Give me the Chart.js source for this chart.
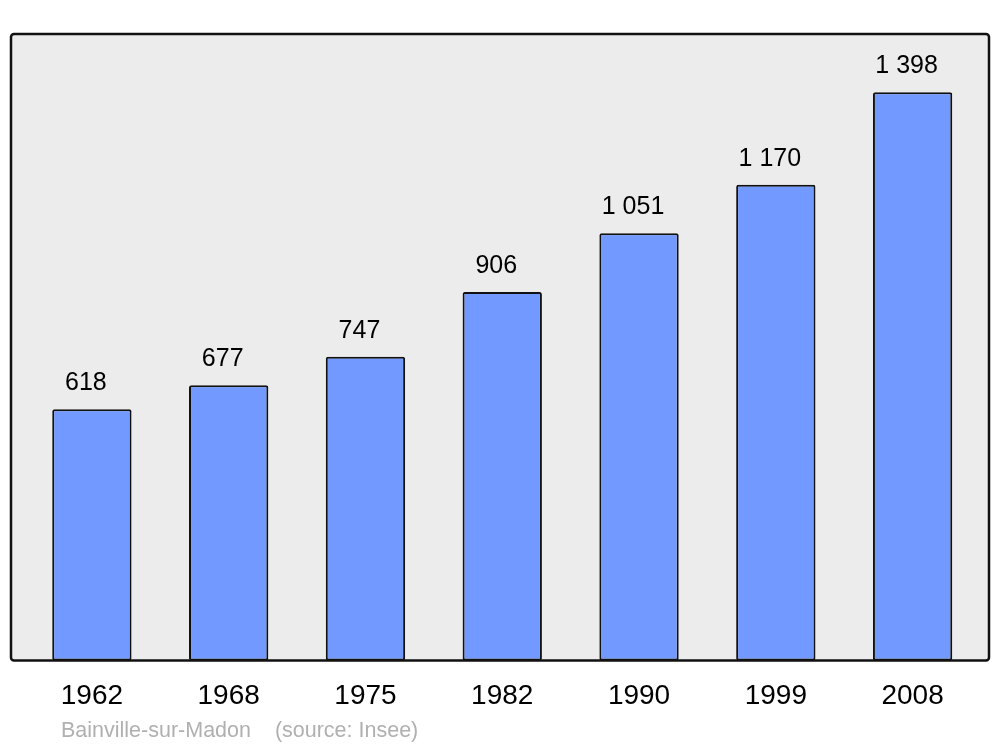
<!DOCTYPE html>
<html>
<head>
<meta charset="utf-8">
<script src="https://cdn.jsdelivr.net/npm/chart.js@4/dist/chart.umd.min.js"></script>
<style>
  html, body { margin: 0; padding: 0; background: #fff; }
  #wrap { width: 1000px; height: 747px; }
</style>
</head>
<body>
<div id="wrap"><canvas id="popChart"></canvas></div>
<script>
const years = ['1962', '1968', '1975', '1982', '1990', '1999', '2008'];
const population = [618, 677, 747, 906, 1051, 1170, 1398];
const sourceText = 'Bainville-sur-Madon    (source: Insee)';

const fmt = v => String(v).replace(/\B(?=(\d{3})+(?!\d))/g, ' ');

// frame behind the bars + value labels above them
const framePlugin = {
    id: 'frame',
    beforeDraw(chart) {
        const { ctx, chartArea } = chart;
        const x = chartArea.left - 12.5, y = chartArea.top;
        const w = chartArea.right + 8 - x, h = chartArea.bottom - y;
        ctx.save();
        ctx.beginPath();
        ctx.roundRect(x, y, w, h, 3);
        ctx.fillStyle = '#ececec';
        ctx.fill();
        ctx.restore();
    },
    afterDatasetsDraw(chart) {
        const { ctx, chartArea } = chart;
        const x = chartArea.left - 12.5, y = chartArea.top;
        const w = chartArea.right + 8 - x, h = chartArea.bottom - y;
        ctx.save();
        ctx.beginPath();
        ctx.roundRect(x, y, w, h, 3);
        ctx.lineWidth = 2.5;
        ctx.strokeStyle = '#111';
        ctx.stroke();

        ctx.font = '25px "Liberation Sans", Arial, sans-serif';
        ctx.fillStyle = '#000';
        ctx.textAlign = 'center';
        ctx.textBaseline = 'middle';
        chart.getDatasetMeta(0).data.forEach((bar, i) => {
            ctx.fillText(fmt(population[i]), bar.x - 6, bar.y - 26);
        });

        ctx.font = '21.5px "Liberation Sans", Arial, sans-serif';
        ctx.fillStyle = '#b0b0b0';
        ctx.textAlign = 'left';
        ctx.fillText(sourceText, 61, 731);
        ctx.restore();
    }
};

const popChart = new Chart(document.getElementById('popChart'), {
    type: 'bar',
    data: {
        labels: years,
        datasets: [{
            data: population,
            backgroundColor: '#7299ff',
            borderColor: '#111',
            borderWidth: 2,
            borderRadius: 2,
            borderSkipped: false,
            categoryPercentage: 1,
            barPercentage: 0.58
        }]
    },
    options: {
        responsive: true,
        maintainAspectRatio: false,
        animation: false,
        layout: {
            padding: { left: 23.5, right: 19, top: 34, bottom: 15 }
        },
        plugins: {
            legend: { display: false },
            tooltip: { enabled: false }
        },
        scales: {
            x: {
                grid: { display: false, drawTicks: false },
                border: { display: false },
                ticks: {
                    color: '#000',
                    padding: 19,
                    font: { family: '"Liberation Sans", Arial, sans-serif', size: 28 }
                }
            },
            y: {
                display: false,
                min: 0,
                max: 1541
            }
        }
    },
    plugins: [framePlugin]
});
</script>
</body>
</html>
